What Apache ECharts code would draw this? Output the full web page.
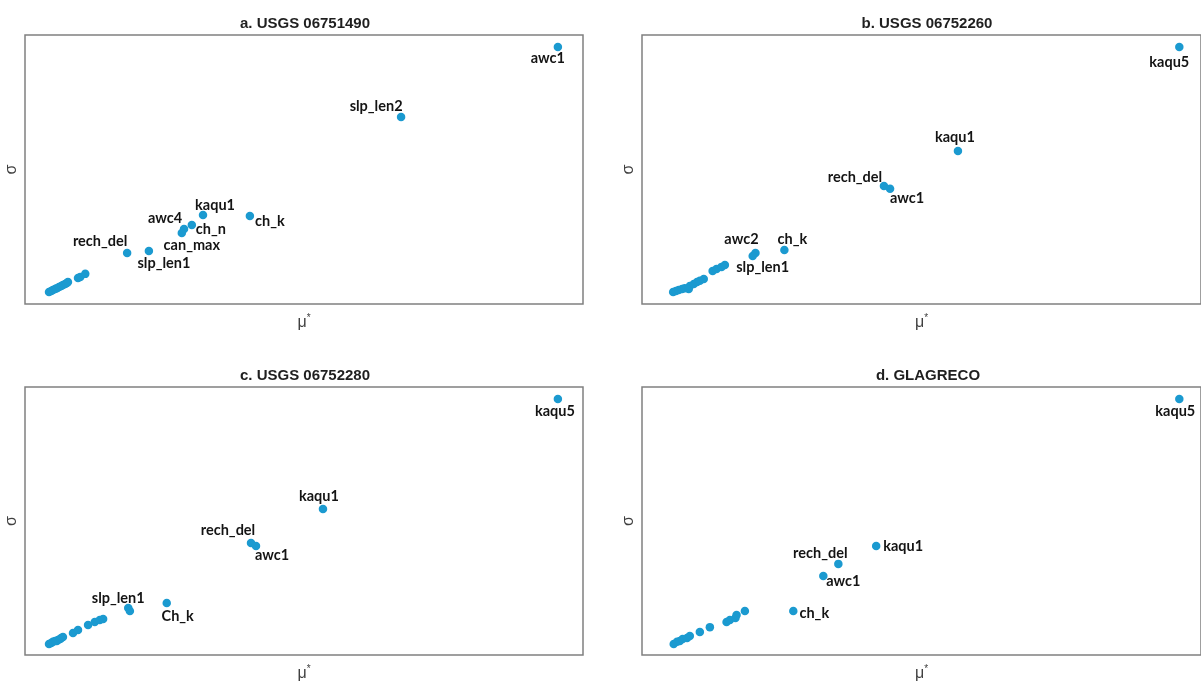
<!DOCTYPE html>
<html><head><meta charset="utf-8">
<script src="https://cdn.jsdelivr.net/npm/echarts@6/dist/echarts.min.js"></script>
<style>html,body{margin:0;padding:0;background:#fff}#c{width:1201px;height:683px}</style>
</head><body><div id="c"></div>
<script>
// ---- data (normalised mu* and sigma) ----
const panelTitles = ['a. USGS 06751490', 'b. USGS 06752260', 'c. USGS 06752280', 'd. GLAGRECO'];

const aNames = ['awc1','slp_len2','ch_k','kaqu1','ch_n','awc4','can_max','slp_len1','rech_del','','','','','','','','','','','','','',''];
const aMu    = [95.5, 67.4, 40.3, 31.9, 29.9, 28.5, 28.1, 22.2, 18.3, 4.3, 4.7, 5.0, 5.4, 5.7, 6.1, 6.5, 6.8, 7.2, 7.5, 7.7, 9.5, 9.9, 10.8];
const aSigma = [95.5, 69.5, 32.7, 33.1, 29.4, 27.9, 26.4, 19.7, 19.0, 4.5, 4.8, 5.2, 5.6, 5.9, 6.3, 6.7, 7.1, 7.4, 7.8, 8.2, 9.7, 10.0, 11.2];

const bNames = ['kaqu5','kaqu1','rech_del','awc1','ch_k','awc2','slp_len1','','','','','','','','','','','','','','',''];
const bMu    = [96.6, 56.8, 43.5, 44.6, 25.6, 20.4, 19.9, 5.6, 6.1, 6.6, 7.2, 7.7, 8.4, 8.6, 9.3, 9.9, 10.4, 11.1, 12.7, 13.4, 14.3, 14.9];
const bSigma = [95.5, 56.9, 43.9, 42.8, 20.1, 19.0, 17.8, 4.5, 4.8, 5.2, 5.6, 5.9, 5.6, 6.7, 7.4, 8.2, 8.6, 9.3, 12.3, 13.0, 13.8, 14.5];

const cNames = ['kaqu5','kaqu1','rech_del','awc1','Ch_k','slp_len1','','','','','','','','','','','','','','',''];
const cMu    = [95.5, 53.4, 40.5, 41.4, 25.4, 18.5, 18.8, 4.3, 4.7, 5.0, 5.4, 5.7, 5.9, 6.3, 6.5, 6.8, 8.6, 9.5, 11.3, 12.5, 13.4, 14.0];
const cSigma = [95.5, 54.5, 41.8, 40.7, 19.4, 17.5, 16.4, 4.1, 4.5, 4.9, 5.2, 5.2, 5.6, 6.0, 6.3, 6.7, 8.2, 9.3, 11.2, 12.3, 13.1, 13.4];

const dNames = ['kaqu5','kaqu1','rech_del','awc1','ch_k','','','','','','','','','','','','',''];
const dMu    = [96.6, 42.1, 35.3, 32.6, 27.2, 5.7, 6.3, 6.8, 7.3, 8.1, 8.6, 10.4, 12.2, 15.2, 15.8, 16.8, 17.0, 18.5];
const dSigma = [95.5, 40.7, 34.0, 29.5, 16.4, 4.1, 4.9, 5.2, 6.0, 6.3, 7.1, 8.6, 10.4, 12.3, 13.1, 13.8, 14.9, 16.4];

// ---- label placement (pixel offsets of the text centre from the point) ----
const labelOffsets = [
  {awc1:[-10,11], slp_len2:[-25,-11], kaqu1:[12,-10], awc4:[-19,-11], ch_n:[19,4], can_max:[10,12], ch_k:[20,5], rech_del:[-27,-12], slp_len1:[15,12]},
  {kaqu5:[-10,15], kaqu1:[-3,-14], rech_del:[-29,-9], awc1:[17,9], awc2:[-14,-14], ch_k:[8,-11], slp_len1:[10,11]},
  {kaqu5:[-3,12], kaqu1:[-4,-13], rech_del:[-23,-13], awc1:[16,9], slp_len1:[-10,-10], Ch_k:[11,13]},
  {kaqu5:[-4,12], kaqu1:[27,0], rech_del:[-18,-11], awc1:[20,5], ch_k:[21,2]}
];

// ---- layout ----
const grids = [
  {left: 25,  top: 35,  width: 558, height: 269, xMax: 100},
  {left: 642, top: 35,  width: 561, height: 269, xMax: 100.5},
  {left: 25,  top: 387, width: 558, height: 268, xMax: 100},
  {left: 642, top: 387, width: 561, height: 268, xMax: 100.5}
];
const titlePos = [[300, 11], [922, 11], [300, 363], [923, 363]];
const panels = [[aNames, aMu, aSigma], [bNames, bMu, bSigma], [cNames, cMu, cSigma], [dNames, dMu, dSigma]];

const dotColor = '#1b9ad0';
const option = {
  backgroundColor: '#ffffff',
  animation: false,
  title: panelTitles.map((t, i) => ({
    text: t, left: titlePos[i][0], top: titlePos[i][1], textAlign: 'center',
    textStyle: {fontFamily: 'Liberation Sans', fontWeight: 'bold', fontSize: 15, color: '#1f1f1f'}
  })),
  grid: grids.map(g => ({
    left: g.left, top: g.top, width: g.width, height: g.height,
    show: true, borderColor: '#808080', borderWidth: 1.5, backgroundColor: '#ffffff', containLabel: false
  })),
  xAxis: grids.map((g, i) => ({
    type: 'value', gridIndex: i, min: 0, max: g.xMax,
    axisLine: {show: false}, axisTick: {show: false}, axisLabel: {show: false}, splitLine: {show: false},
    name: 'μ{s|*}', nameLocation: 'middle', nameGap: 9,
    nameTextStyle: {fontFamily: 'Liberation Sans', fontSize: 16, color: '#404040', verticalAlign: 'top',
      rich: {s: {fontSize: 10, color: '#404040', padding: [0, 0, 10, 0]}}}
  })),
  yAxis: grids.map((g, i) => ({
    type: 'value', gridIndex: i, min: 0, max: 100,
    axisLine: {show: false}, axisTick: {show: false}, axisLabel: {show: false}, splitLine: {show: false},
    name: 'σ', nameLocation: 'middle', nameGap: 5, nameRotate: 90,
    nameTextStyle: {fontFamily: 'Liberation Sans', fontSize: 16, color: '#404040'}
  })),
  series: panels.map((p, i) => ({
    type: 'scatter', xAxisIndex: i, yAxisIndex: i, symbolSize: 8.5,
    itemStyle: {color: dotColor, opacity: 1},
    data: p[1].map((x, k) => {
      const nm = p[0][k];
      const item = {value: [x, p[2][k]], name: nm};
      if (nm) {
        item.label = {
          show: true, position: 'inside', offset: labelOffsets[i][nm], formatter: nm,
          align: 'center', verticalAlign: 'middle',
          fontFamily: 'Lato', fontWeight: 'bold', fontSize: 14.5, color: '#141414'
        };
      }
      return item;
    })
  }))
};
const chart = echarts.init(document.getElementById('c'), null, {renderer: 'canvas'});
chart.setOption(option);
</script>
</body></html>
